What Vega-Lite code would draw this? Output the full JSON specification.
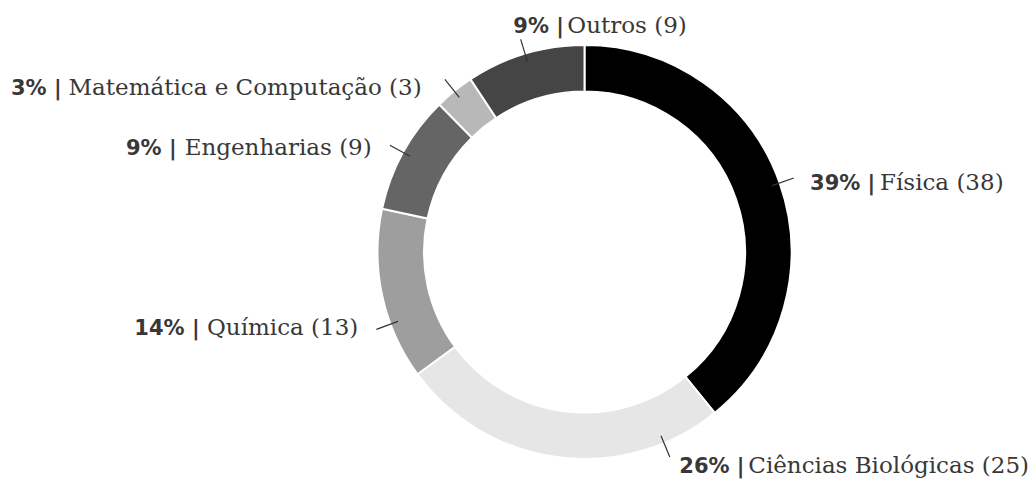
{
  "$schema": "https://vega.github.io/schema/vega-lite/v6.json",
  "width": 899,
  "height": 454,
  "autosize": {"type": "none"},
  "padding": {"left": 135, "top": 25, "right": 0, "bottom": 0},
  "background": "white",
  "config": {"view": {"stroke": null}},
  "data": {
    "values": [
      {"category": "Física", "count": 38, "pct": "39% |", "label": "Física (38)", "ord": 1},
      {"category": "Ciências Biológicas", "count": 25, "pct": "26% |", "label": "Ciências Biológicas (25)", "ord": 2},
      {"category": "Química", "count": 13, "pct": "14% |", "label": "Química (13)", "ord": 3},
      {"category": "Engenharias", "count": 9, "pct": "9% |", "label": "Engenharias (9)", "ord": 4},
      {"category": "Matemática e Computação", "count": 3, "pct": "3% |", "label": "Matemática e Computação (3)", "ord": 5},
      {"category": "Outros", "count": 9, "pct": "9% |", "label": "Outros (9)", "ord": 6}
    ]
  },
  "encoding": {
    "theta": {"field": "count", "type": "quantitative", "stack": true},
    "order": {"field": "ord", "type": "quantitative"}
  },
  "layer": [
    {
      "mark": {"type": "arc", "radius": 207, "radius2": 160.5, "stroke": "white", "strokeWidth": 2},
      "encoding": {
        "color": {
          "field": "category",
          "type": "nominal",
          "scale": {
            "domain": ["Física", "Ciências Biológicas", "Química", "Engenharias", "Matemática e Computação", "Outros"],
            "range": ["#000000", "#e6e6e6", "#9e9e9e", "#656565", "#b8b8b8", "#454545"]
          },
          "legend": null
        }
      }
    },
    {
      "mark": {"type": "arc", "radius": 222, "radius2": 199, "padAngle": 3, "fill": "#333333", "stroke": "#333333", "strokeWidth": 1.2},
      "encoding": {
        "strokeOpacity": {
          "condition": {"test": "datum.category === 'Química' || datum.category === 'Ciências Biológicas'", "value": 0},
          "value": 1
        }
      }
    },
    {
      "transform": [{"filter": "datum.category === 'Química'"}],
      "mark": {"type": "arc", "radius": 222, "radius2": 199, "fill": "#333333", "stroke": "#333333", "strokeWidth": 1.2},
      "encoding": {"theta": {"value": 4.3563}, "theta2": {"value": 4.3563}}
    },
    {
      "transform": [{"filter": "datum.category === 'Ciências Biológicas'"}],
      "mark": {"type": "arc", "radius": 222, "radius2": 199, "fill": "#333333", "stroke": "#333333", "strokeWidth": 1.2},
      "encoding": {"theta": {"value": 2.7471}, "theta2": {"value": 2.7471}}
    },
    {
      "mark": {"type": "text", "radius": 232, "align": "left", "baseline": "alphabetic", "dx": 6.8, "dy": 15.4, "font": "DejaVu Sans", "fontWeight": "bold", "fontSize": 21, "fill": "#383838"},
      "encoding": {"text": {"condition": {"test": "datum.category === 'Física'", "field": "pct", "type": "nominal"}, "value": ""}}
    },
    {
      "mark": {"type": "text", "radius": 232, "align": "left", "baseline": "alphabetic", "dx": 76.8, "dy": 15.4, "font": "DejaVu Serif", "fontSize": 23, "fill": "#383838"},
      "encoding": {"text": {"condition": {"test": "datum.category === 'Física'", "field": "label", "type": "nominal"}, "value": ""}}
    },
    {
      "mark": {"type": "text", "radius": 232, "align": "left", "baseline": "alphabetic", "dx": 124.75, "dy": -8.76, "font": "DejaVu Sans", "fontWeight": "bold", "fontSize": 21, "fill": "#383838"},
      "encoding": {"text": {"condition": {"test": "datum.category === 'Ciências Biológicas'", "field": "pct", "type": "nominal"}, "value": ""}}
    },
    {
      "mark": {"type": "text", "radius": 232, "align": "left", "baseline": "alphabetic", "dx": 193.75, "dy": -8.76, "font": "DejaVu Serif", "fontSize": 23, "fill": "#383838"},
      "encoding": {"text": {"condition": {"test": "datum.category === 'Ciências Biológicas'", "field": "label", "type": "nominal"}, "value": ""}}
    },
    {
      "mark": {"type": "text", "radius": 232, "align": "right", "baseline": "alphabetic", "dx": -158, "dy": 34.5, "font": "DejaVu Sans", "fontWeight": "bold", "fontSize": 21, "fill": "#383838"},
      "encoding": {"text": {"condition": {"test": "datum.category === 'Química'", "field": "pct", "type": "nominal"}, "value": ""}}
    },
    {
      "mark": {"type": "text", "radius": 232, "align": "right", "baseline": "alphabetic", "dx": 0.7, "dy": 34.5, "font": "DejaVu Serif", "fontSize": 23, "fill": "#383838"},
      "encoding": {"text": {"condition": {"test": "datum.category === 'Química'", "field": "label", "type": "nominal"}, "value": ""}}
    },
    {
      "mark": {"type": "text", "radius": 232, "align": "right", "baseline": "alphabetic", "dx": -204.5, "dy": 14.6, "font": "DejaVu Sans", "fontWeight": "bold", "fontSize": 21, "fill": "#383838"},
      "encoding": {"text": {"condition": {"test": "datum.category === 'Engenharias'", "field": "pct", "type": "nominal"}, "value": ""}}
    },
    {
      "mark": {"type": "text", "radius": 232, "align": "right", "baseline": "alphabetic", "dx": -9.4, "dy": 14.6, "font": "DejaVu Serif", "fontSize": 23, "fill": "#383838"},
      "encoding": {"text": {"condition": {"test": "datum.category === 'Engenharias'", "field": "label", "type": "nominal"}, "value": ""}}
    },
    {
      "mark": {"type": "text", "radius": 232, "align": "right", "baseline": "alphabetic", "dx": -377, "dy": 23.4, "font": "DejaVu Sans", "fontWeight": "bold", "fontSize": 21, "fill": "#383838"},
      "encoding": {"text": {"condition": {"test": "datum.category === 'Matemática e Computação'", "field": "pct", "type": "nominal"}, "value": ""}}
    },
    {
      "mark": {"type": "text", "radius": 232, "align": "right", "baseline": "alphabetic", "dx": -16.9, "dy": 23.4, "font": "DejaVu Serif", "fontSize": 23, "fill": "#383838"},
      "encoding": {"text": {"condition": {"test": "datum.category === 'Matemática e Computação'", "field": "label", "type": "nominal"}, "value": ""}}
    },
    {
      "mark": {"type": "text", "radius": 232, "align": "left", "baseline": "alphabetic", "dx": -4.5, "dy": 3.5, "font": "DejaVu Sans", "fontWeight": "bold", "fontSize": 21, "fill": "#383838"},
      "encoding": {"text": {"condition": {"test": "datum.category === 'Outros'", "field": "pct", "type": "nominal"}, "value": ""}}
    },
    {
      "mark": {"type": "text", "radius": 232, "align": "left", "baseline": "alphabetic", "dx": 49.5, "dy": 3.5, "font": "DejaVu Serif", "fontSize": 23, "fill": "#383838"},
      "encoding": {"text": {"condition": {"test": "datum.category === 'Outros'", "field": "label", "type": "nominal"}, "value": ""}}
    }
  ]
}
